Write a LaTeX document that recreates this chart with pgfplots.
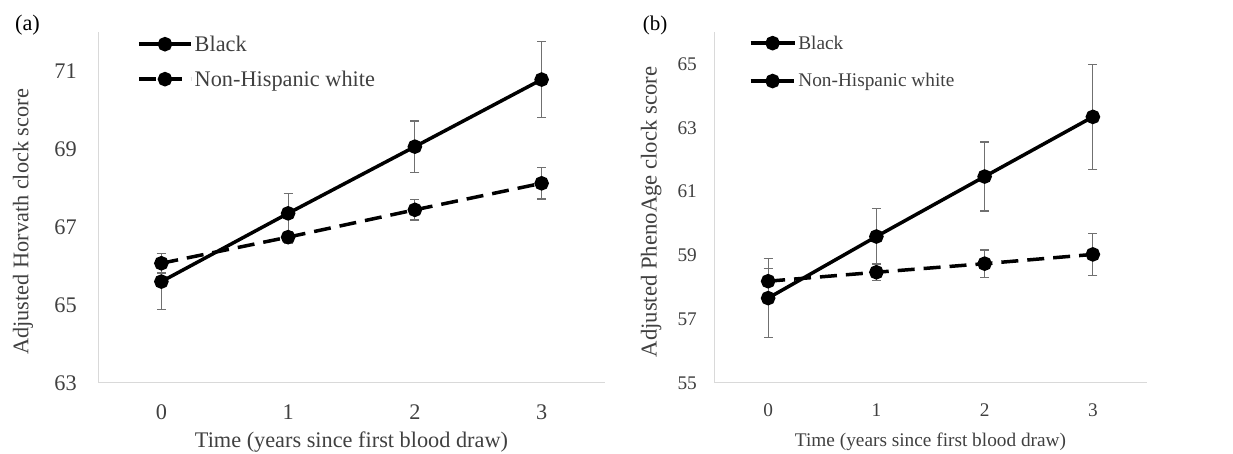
\documentclass[border=0pt]{standalone}
\usepackage{fontspec}
\setmainfont{Liberation Serif}
\usepackage{pgfplots}
\pgfplotsset{compat=1.18}

\definecolor{txt}{HTML}{404040}
\definecolor{ebar}{HTML}{707070}
\definecolor{axl}{HTML}{D9D9D9}

\newcommand{\fa}{\fontsize{22.3}{26}\selectfont}
\newcommand{\fb}{\fontsize{19.3}{23}\selectfont}

\pgfplotsset{
  clock/.style={
    scale only axis,
    axis x line=bottom, axis y line=left,
    axis line style={draw=axl, line width=1pt, -},
    major tick length=0pt,
    xmin=-0.5, xmax=3.5,
    xtick={0,1,2,3},
    /pgf/number format/assume math mode=true,
    tick label style={text=txt},
    label style={text=txt},
    y tick label style={anchor=east, inner sep=0pt},
    legend cell align=left,
    legend style={draw=none, fill=none, inner sep=0pt, column sep=2pt,
      text=txt, nodes={inner sep=0pt}},
    clip=false,
  },
  leglen/.style={legend image code/.code={\draw[mark repeat=2,mark phase=2]
      plot coordinates {(0pt,0pt) (#1/2,0pt) (#1,0pt)};}},
  blk/.style={black, line width=3.5pt, mark=*, mark size=5.5pt, mark options={solid}},
  nhw/.style={black, line width=3.5pt, dash pattern=on 17pt off 9pt,
    mark=*, mark size=5.5pt, mark options={solid}},
  eb/.style={error bars/.cd, y dir=both, y explicit, error mark=|,
    error bar style={ebar, line width=1.2pt, solid},
    error mark options={ebar, line width=1.2pt, mark size=4.5pt, solid}},
}

\begin{document}
\begin{tikzpicture}
\useasboundingbox (0,0) rectangle (1233pt,454pt);

% (a) Horvath
\begin{axis}[clock,
  at={(98pt,71pt)}, anchor=south west,
  width=507pt, height=351pt,
  ymin=63, ymax=72, ytick={63,65,67,69,71},
  font=\fa,
  x tick label style={anchor=center, yshift=-29pt},
  y tick label style={xshift=-21pt},
  xlabel={Time (years since first blood draw)},
  ylabel={Adjusted Horvath clock score},
  xlabel style={at={(axis description cs:0.5,-0.168)}, anchor=center},
  ylabel style={at={(axis description cs:-0.148,0.459)}, anchor=center},
  leglen=52pt,
  legend style={at={(axis description cs:0.077,0.99)}, anchor=north west, row sep=18pt},
]
\addplot[blk, eb] coordinates {
  (0,65.60) +- (0,0.72)
  (1,67.35) +- (0,0.51)
  (2,69.06) +- (0,0.66)
  (3,70.78) +- (0,0.98)
};
\addplot[nhw, eb] coordinates {
  (0,66.07) +- (0,0.25)
  (1,66.74) +- (0,0.15)
  (2,67.44) +- (0,0.26)
  (3,68.12) +- (0,0.40)
};
\legend{Black, Non-Hispanic white}
\end{axis}

% (b) PhenoAge
\begin{axis}[clock,
  at={(714pt,71pt)}, anchor=south west,
  width=433pt, height=351pt,
  ymin=55, ymax=66, ytick={55,57,59,61,63,65},
  font=\fb,
  x tick label style={anchor=center, yshift=-27pt},
  y tick label style={xshift=-17pt},
  xlabel={Time (years since first blood draw)},
  ylabel={Adjusted PhenoAge clock score},
  xlabel style={at={(axis description cs:0.5,-0.168)}, anchor=center},
  ylabel style={at={(axis description cs:-0.145,0.487)}, anchor=center,
    font=\fontsize{22.7}{26}\selectfont},
  leglen=44pt,
  legend style={at={(axis description cs:0.080,0.99)}, anchor=north west, row sep=23pt},
]
\addplot[blk, eb] coordinates {
  (0,57.66) +- (0,1.23)
  (1,59.59) +- (0,0.88)
  (2,61.47) +- (0,1.08)
  (3,63.34) +- (0,1.65)
};
\addplot[nhw, eb] coordinates {
  (0,58.19) +- (0,0.40)
  (1,58.47) +- (0,0.26)
  (2,58.74) +- (0,0.43)
  (3,59.03) +- (0,0.66)
};
\legend{Black, Non-Hispanic white}
\end{axis}

\node[font=\fa] at (27.5pt,429pt) {(a)};
\node[font=\fontsize{21}{25}\selectfont] at (655pt,429pt) {(b)};
\end{tikzpicture}
\end{document}
